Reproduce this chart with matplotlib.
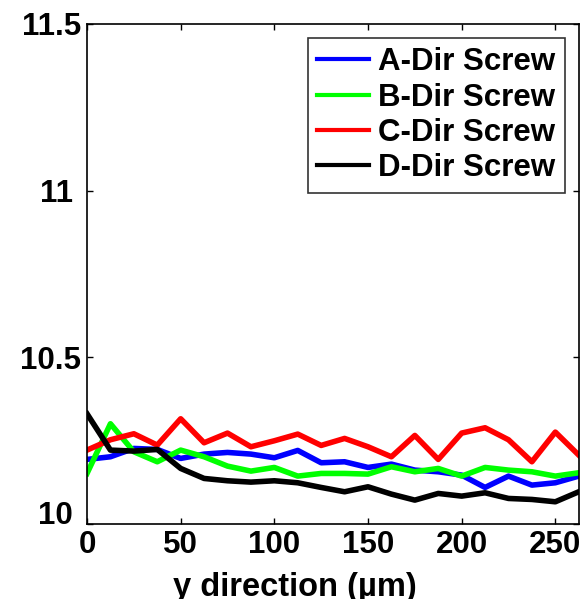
import numpy as np
import matplotlib.pyplot as plt

plt.rcParams['font.family'] = ['Liberation Sans', 'DejaVu Sans']
plt.rcParams['font.weight'] = 'bold'

# positions along y (um), step 12.5
y_pos = np.arange(22) * 12.5

a_dir = [10.194, 10.202, 10.227, 10.224, 10.197, 10.210, 10.215, 10.210, 10.199, 10.221, 10.184,
         10.187, 10.170, 10.180, 10.162, 10.157, 10.147, 10.110, 10.144, 10.117, 10.124, 10.144]
b_dir = [10.152, 10.301, 10.217, 10.187, 10.222, 10.202, 10.174, 10.159, 10.170, 10.144, 10.152,
         10.152, 10.150, 10.172, 10.157, 10.167, 10.144, 10.170, 10.162, 10.157, 10.144, 10.154]
c_dir = [10.222, 10.253, 10.271, 10.237, 10.316, 10.244, 10.273, 10.232, 10.250, 10.270, 10.236,
         10.257, 10.232, 10.202, 10.266, 10.194, 10.273, 10.289, 10.253, 10.187, 10.276, 10.207]
d_dir = [10.331, 10.222, 10.219, 10.224, 10.167, 10.137, 10.130, 10.126, 10.130, 10.124, 10.110,
         10.097, 10.112, 10.090, 10.072, 10.092, 10.084, 10.094, 10.077, 10.074, 10.067, 10.097]

labels = ['A-Dir Screw', 'B-Dir Screw', 'C-Dir Screw', 'D-Dir Screw']
colors = ['#0000ff', '#00ff00', '#ff0000', '#000000']

fig = plt.figure(figsize=(5.84, 5.99), dpi=100)
ax = fig.add_axes([0.149, 0.125, 0.842, 0.835])

for vals, lab, col in zip([a_dir, b_dir, c_dir, d_dir], labels, colors):
    ax.plot(y_pos, vals, color=col, linewidth=4, label=lab)

ax.set_xlim(0, 262.5)
ax.set_ylim(10, 11.5)
ax.set_xticks([0, 50, 100, 150, 200, 250])
ax.set_yticks([10, 10.5, 11, 11.5])
ax.set_yticklabels(['10 ', '10.5', '11 ', '11.5'])
ax.tick_params(direction='in', length=4, width=1, top=True, right=True,
               labelsize=22.5, pad=4)
for lbl in ax.get_xticklabels() + ax.get_yticklabels():
    lbl.set_fontweight('bold')
# lift the bottom y label a little, as in the original
ax.get_yticklabels()[0].set_va('baseline')
for s in ax.spines.values():
    s.set_linewidth(1.2)

ax.set_xlabel('y direction (\u00b5m)', fontsize=23.5, fontweight='bold')
ax.xaxis.set_label_coords(0.423, -0.095)

leg = ax.legend(loc='upper right', frameon=True, fancybox=False,
                edgecolor='black', handlelength=1.67, handletextpad=0.28,
                labelspacing=0.17, borderpad=0.3, borderaxespad=0.45,
                prop={'weight': 'bold', 'size': 22.5})
leg.get_frame().set_linewidth(1.2)
for line in leg.get_lines():
    line.set_linewidth(3)

plt.savefig('out.png', dpi=100)
